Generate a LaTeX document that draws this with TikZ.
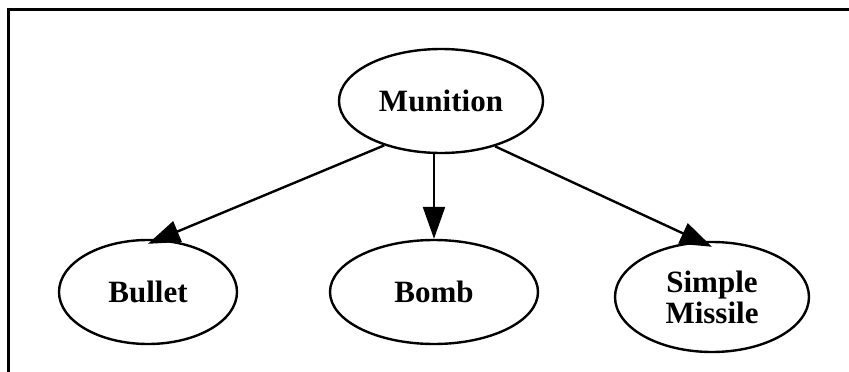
\documentclass[tikz,border=0pt]{standalone}
\usepackage{fontspec}
\setmainfont{Liberation Serif}
\usetikzlibrary{arrows.meta,shapes.geometric}
\begin{document}
\begin{tikzpicture}[x=1pt,y=-1pt,
  nodebox/.style={ellipse,draw,line width=2.4pt,inner sep=0pt,align=center,
    font=\fontsize{31}{33}\selectfont\bfseries},
  edge/.style={line width=2.4pt,-{Triangle[length=32pt,width=22pt]}}]
\useasboundingbox (0,0) rectangle (849,372);
\coordinate (fb) at (8,372);
\coordinate (fc) at (8,9);
\coordinate (fr) at (849,9);
\draw[line width=3pt] (fb) -- (fc) -- (fr);
\node[nodebox,minimum width=204pt,minimum height=104pt] (mun) at (441,101) {Munition};
\node[nodebox,minimum width=178pt,minimum height=104pt] (bul) at (148,292) {Bullet};
\node[nodebox,minimum width=208pt,minimum height=104pt] (bomb) at (434,292) {Bomb};
\node[nodebox,minimum width=194pt,minimum height=110pt] (mis) at (712,297) {Simple\\[-2pt]Missile};
\draw[edge] (mun.218) -- ([yshift=-5pt]bul.north);
\draw[edge] (mun.south -| bomb.north) -- (bomb.north);
\draw[edge] (mun.320) -- ([yshift=-6pt]mis.north);
\end{tikzpicture}
\end{document}
